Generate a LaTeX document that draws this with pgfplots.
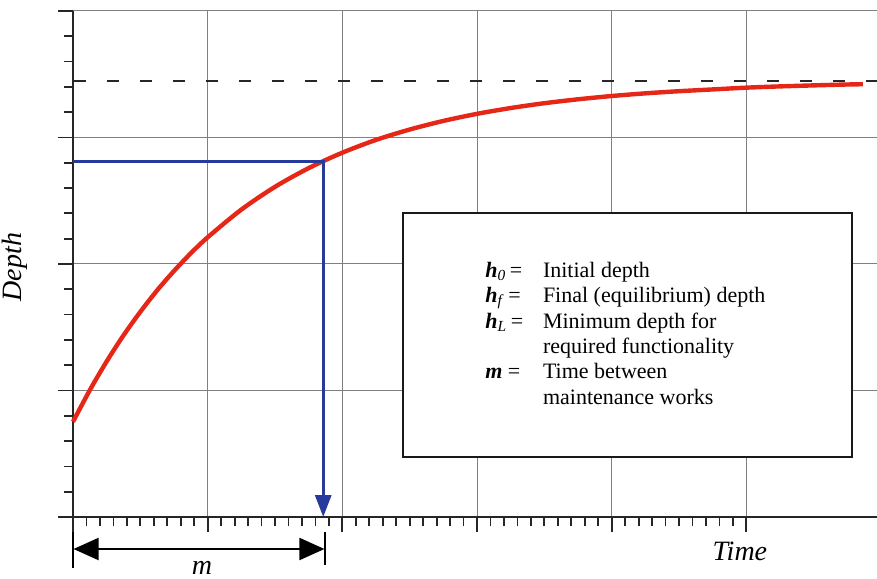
\documentclass[border=0pt]{standalone}
\usepackage{pgfplots}
\pgfplotsset{compat=1.18}
\usepackage{fontspec}
\setmainfont{Liberation Serif}
\usetikzlibrary{arrows.meta}
\definecolor{cred}{RGB}{230,38,22}
\definecolor{cblue}{RGB}{38,58,156}
\begin{document}
\begin{tikzpicture}
\begin{axis}[
  scale only axis, width=402pt, height=253pt,
  xmin=0, xmax=5.97, ymin=0, ymax=4,
  axis x line=bottom, axis y line=left,
  axis line style={-, line width=1pt, black!85},
  xtick={0,1,2,3,4,5}, ytick={0,1,2,3,4},
  minor x tick num=9, minor y tick num=4,
  xticklabels={}, yticklabels={},
  tick align=outside,
  major tick length=7.5pt, minor tick length=4.5pt,
  every tick/.style={line width=0.9pt, black!85},
  grid=major, major grid style={black!50, line width=0.5pt},
  clip=false,
]
\coordinate (BL) at (rel axis cs:0,0);
\coordinate (TR) at (rel axis cs:1,1);
% equilibrium depth
\addplot[black!85, line width=0.7pt, dash pattern=on 6pt off 10.5pt] coordinates {(0.01,3.447) (5.97,3.447)};
% depth curve
\addplot[cred, line width=2.2pt, smooth] coordinates {
(0,0.753) (0.125,1.003) (0.25,1.230) (0.375,1.436) (0.5,1.622) (0.625,1.792)
(0.75,1.945) (0.875,2.085) (1.0,2.211) (1.25,2.430)
(1.5,2.610) (1.75,2.758) (2.0,2.880) (2.25,2.981) (2.5,3.063) (2.75,3.131)
(3.0,3.187) (3.25,3.233) (3.5,3.271) (3.75,3.302) (4.0,3.328) (4.25,3.349)
(4.5,3.366) (4.75,3.380) (5.0,3.394) (5.25,3.404) (5.5,3.412) (5.75,3.419) (5.865,3.421)};
% minimum depth and m
\addplot[cblue, line width=1.5pt, line join=miter, -{Triangle[length=11pt,width=8pt]}] coordinates {(0,2.814) (1.858,2.814) (1.858,0)};
% dimension arrow
\addplot[black, line width=1pt] coordinates {(0,-0.119) (0,-0.403)};
\addplot[black, line width=1pt] coordinates {(1.871,-0.119) (1.871,-0.379)};
\addplot[black, line width=1pt, {Triangle[length=12.5pt,width=11pt]}-{Triangle[length=12.5pt,width=11pt]}] coordinates {(0.004,-0.253) (1.867,-0.253)};
% legend box
\draw[line width=1pt, black!90, fill=white] (axis cs:2.450,0.474) rectangle (axis cs:5.783,2.403);
\begin{scope}[every node/.style={anchor=base west, inner sep=0pt, font=\fontsize{11}{13}\selectfont}]
\node at (axis cs:3.059,1.897) {\textbf{\textit{h}}\textsubscript{\textit{0}}\,=};
\node at (axis cs:3.487,1.897) {Initial depth};
\node at (axis cs:3.059,1.696) {\textbf{\textit{h}}\textsubscript{\textit{f}}\,=};
\node at (axis cs:3.487,1.696) {Final (equilibrium) depth};
\node at (axis cs:3.059,1.494) {\textbf{\textit{h}}\textsubscript{\textit{L}}\,=};
\node at (axis cs:3.487,1.494) {Minimum depth for};
\node at (axis cs:3.487,1.292) {required functionality};
\node at (axis cs:3.059,1.091) {\textbf{\textit{m}} =};
\node at (axis cs:3.487,1.091) {Time between};
\node at (axis cs:3.487,0.889) {maintenance works};
\end{scope}
% axis labels
\node[rotate=90, anchor=base, inner sep=0pt, font=\fontsize{14}{16}\selectfont\itshape] at (axis cs:-0.379,1.976) {Depth};
\node[anchor=base, inner sep=0pt, font=\fontsize{14}{16}\selectfont\itshape] at (axis cs:4.952,-0.345) {Time};
\node[anchor=base, inner sep=0pt, font=\fontsize{14}{16}\selectfont\itshape] at (axis cs:0.958,-0.458) {m};
\end{axis}
\pgfresetboundingbox
\useasboundingbox ([xshift=-36.5pt,yshift=-30.5pt]BL) rectangle ([yshift=5.5pt]TR);
\end{tikzpicture}
\end{document}
